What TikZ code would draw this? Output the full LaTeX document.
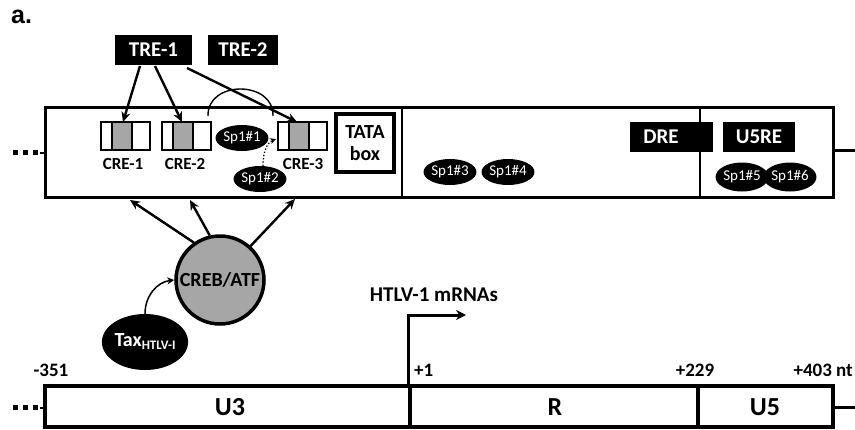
\documentclass[tikz,border=0pt]{standalone}
\usepackage{fontspec}
\setmainfont{Carlito}
\newfontfamily\arialfont{Liberation Sans}
\usetikzlibrary{arrows.meta,calc,shapes.geometric}
\definecolor{boxgray}{gray}{0.65}
\tikzset{
  blackbox/.style={fill=black, text=white, font=\bfseries\fontsize{21}{23}\selectfont, inner sep=0pt, minimum height=30pt},
  spone/.style={ellipse, fill=black, text=white, font=\fontsize{15}{16}\selectfont, inner sep=0pt, minimum width=49pt, minimum height=26pt},
  arr/.style={-{Stealth[length=10pt,width=9pt]}, line width=2.4pt},
  lbl/.style={font=\bfseries\fontsize{19}{21}\selectfont, inner sep=0pt},
  seglbl/.style={font=\bfseries\fontsize{26}{28}\selectfont, inner sep=0pt},
  crelbl/.style={font=\bfseries\fontsize{17}{19}\selectfont, inner sep=0pt},
}
\begin{document}
\begin{tikzpicture}[x=1pt,y=-1pt]
\useasboundingbox (0,0) rectangle (855,429);
% panel letter
\node[font=\arialfont\bfseries\fontsize{25}{27}\selectfont, anchor=west, inner sep=0pt] (panel) at (11,17) {a.};

% upper promoter box
\draw[line width=3pt] (45,107) rectangle (833,197);
\draw[line width=2.5pt] (402,107) -- (402,197);
\draw[line width=2.5pt] (700,107) -- (700,197);
\draw[line width=3pt] (833,150) -- (855,150);
\foreach \x in {13,23,33} \fill (\x,150) rectangle ++(5,5);
\draw[line width=2pt] (40,152.5) -- (45,152.5);

% TRE boxes
\node[blackbox, minimum width=77pt] (tre1) at (153.5,50) {TRE-1};
\node[blackbox, minimum width=70pt] (tre2) at (243,50) {TRE-2};

% CRE boxes
\foreach \L/\n in {101/1,162/2,278/3}{
  \fill[white] (\L,122) rectangle ++(49,28);
  \fill[boxgray] (\L+11,122) rectangle (\L+31,150);
  \draw[line width=2.6pt] (\L,122) rectangle ++(49,28);
  \draw[line width=2.6pt] (\L+11,122) -- (\L+11,150);
  \draw[line width=2.6pt] (\L+31,122) -- (\L+31,150);
  \coordinate (cre\n) at (\L+24.5,136);
}
\coordinate (cretopA) at (123,122);
\coordinate (cretopB) at (182,122);
\coordinate (cretopC) at (297,122);
\node[crelbl] (cre1lbl) at (123,164) {CRE-1};
\node[crelbl] (cre2lbl) at (185,164) {CRE-2};
\node[crelbl] (cre3lbl) at (303,164) {CRE-3};

% TATA box
\node[draw, line width=3.5pt, minimum width=58pt, minimum height=58pt, inner sep=0pt, align=center,
      font=\bfseries\fontsize{20}{22}\selectfont] (tata) at (365,143) {TATA\\box};

% Sp1 sites
\node[spone] (sp1) at (242,138) {Sp1\#1};
\node[spone] (sp2) at (260,179) {Sp1\#2};
\node[spone, minimum width=50pt] (sp3) at (450,172) {Sp1\#3};
\node[spone, minimum width=50pt] (sp4) at (508,172) {Sp1\#4};
\node[spone, minimum height=29pt] (sp5) at (742,177) {Sp1\#5};
\node[spone, minimum height=29pt] (sp6) at (790,177) {Sp1\#6};

% DRE / U5RE
\node[blackbox, minimum width=83pt] (dre) at (671.5,137) {DRE\hspace*{21pt}};
\node[blackbox, minimum width=72pt] (u5re) at (759,137) {U5RE};

% TRE-1 arrows
\draw[arr] (140,66) -- (cretopA);
\draw[arr] (155,66) -- (cretopB);
\draw[arr] (187,68) -- (cretopC);

% TRE-2 bracket
\coordinate (brL) at (208,116);
\coordinate (brR) at (273,116);
\draw[line width=1.4pt] (brL) .. controls (207,80) and (274,80) .. (brR);

% dotted Sp1#2 arrow
\coordinate (dotstart) at (263,166);
\coordinate (dottip) at (276,139);
\draw[line width=1.3pt, dotted, -{Stealth[length=6pt,width=6pt]}] (dotstart) .. controls (263,150) and (268,142) .. (dottip);

% CREB/ATF
\node[circle, draw, line width=3.5pt, fill=boxgray, minimum size=88pt, inner sep=0pt,
      font=\bfseries\fontsize{20}{22}\selectfont] (creb) at (220,280) {CREB/ATF};
\coordinate (t1) at (130,200);
\coordinate (t2) at (190,200);
\coordinate (t3) at (295,199);
\draw[arr] (creb.125) -- (t1);
\draw[arr] (creb.103) -- (t2);
\draw[arr] (creb.48) -- (t3);

% Tax
\node[ellipse, fill=black, text=white, minimum width=75pt, minimum height=56pt, inner sep=0pt,
      font=\bfseries\fontsize{20}{22}\selectfont] (tax) at (145,342)
      {Tax{\fontsize{13}{14}\selectfont\raisebox{-3pt}{HTLV-I}}};
\draw[line width=1.5pt, -{Stealth[length=7pt,width=7pt]}] (tax.north) .. controls (145,296) and (157,282) .. (creb.west);

% lower LTR map
\draw[line width=4pt] (45,386) rectangle (833,427);
\draw[line width=3.5pt] (410,386) -- (410,427);
\draw[line width=3.5pt] (698,386) -- (698,427);
\draw[line width=3pt] (833,407) -- (855,407);
\foreach \x in {13,23,33} \fill (\x,405) rectangle ++(5,5);
\draw[line width=2pt] (40,407.5) -- (45,407.5);
\node[seglbl] (u3) at (230,407) {U3};
\node[seglbl] (r) at (555,407) {R};
\node[seglbl] (u5) at (765,407) {U5};

% coordinate labels
\node[lbl] (m351) at (51,370) {-351};
\node[lbl, anchor=west] (p1) at (414,370) {+1};
\node[lbl] (p229) at (695,370) {+229};
\node[lbl, anchor=east] (p403) at (853,370) {+403 nt};

% transcription start
\coordinate (tss) at (408,386);
\coordinate (tssup) at (408,315);
\coordinate (tssend) at (466,315);
\draw[line width=3pt, -{Stealth[length=10pt,width=10pt]}] (tss) -- (tssup) -- (tssend);
\node[font=\bfseries\fontsize{21}{23}\selectfont, inner sep=0pt] (mrna) at (434,295) {HTLV-1 mRNAs};
\end{tikzpicture}
\end{document}
